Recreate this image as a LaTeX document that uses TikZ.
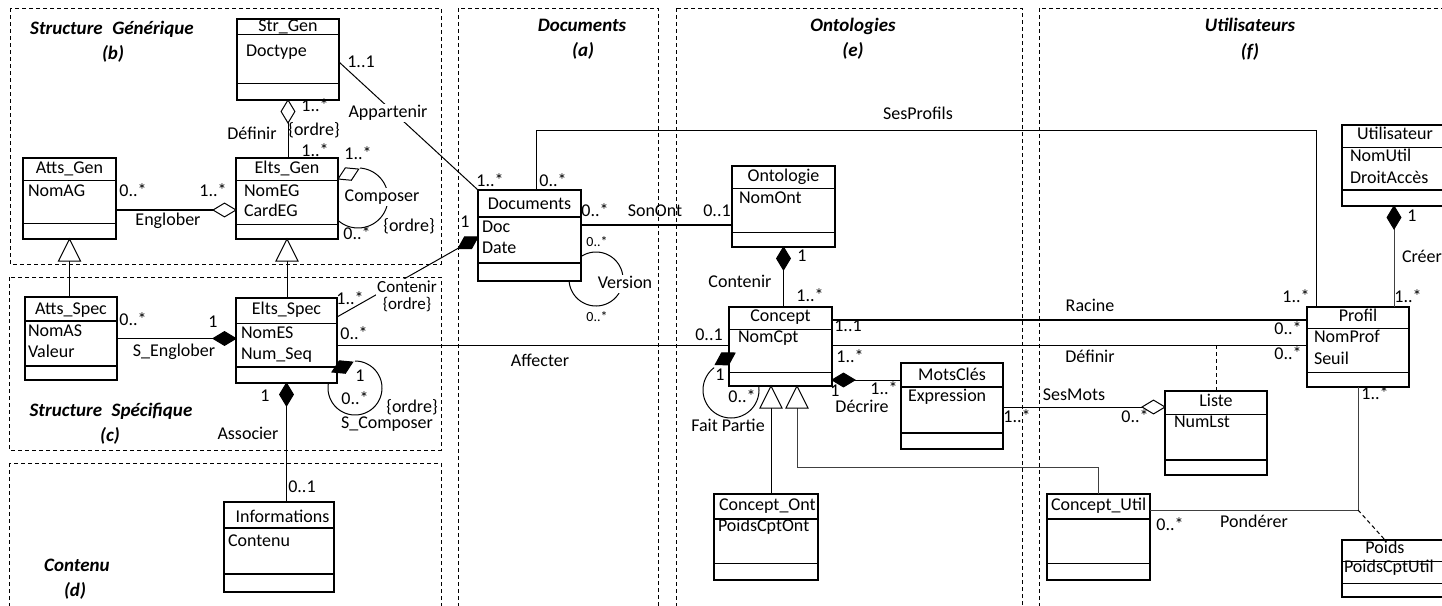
\documentclass[tikz,border=0pt]{standalone}
\usepackage{fontspec}
\setmainfont{Carlito}
\usetikzlibrary{calc}

% class box: name, x1, y1, x2, y2, separator 1 y, separator 2 y, style 1, style 2
\newcommand\umlclass[9]{%
  \node[clsbox, minimum width={(#4-#2)*1pt}, minimum height={(#5-#3)*1pt}] (#1) at ({(#2+#4)/2},{(#3+#5)/2}) {};
  \draw[#8] ({#2},{#6}) -- ({#4},{#6});
  \draw[#9] ({#2},{#7}) -- ({#4},{#7});
}
% aggregation / composition diamond: fill, tip, direction (degrees)
\newcommand\hdiam[3]{\draw[line width=1pt, fill=#1] (#2) -- ++(#3+31:13.4pt) -- ++(#3-31:13.4pt) -- ++(#3+211:13.4pt) -- cycle;}
% generalisation triangle with its apex on a class bottom
\newcommand\gentri[1]{\draw[line width=1pt, fill=white] (#1) -- ++(-11pt,-22pt) -- ++(22pt,0pt) -- cycle;}

\tikzset{
  lab/.style={font=\fontsize{18}{21}\selectfont, text height=12pt, text depth=3.5pt, inner sep=0pt, outer sep=0pt},
  small/.style={font=\fontsize{14}{16}\selectfont, text height=9pt, text depth=2.5pt, inner sep=0pt},
  ttl/.style={font=\fontsize{19}{22}\selectfont\bfseries\itshape, text height=12.5pt, text depth=3.5pt, inner sep=0pt},
  clsbox/.style={draw, line width=1.1pt, inner sep=0pt, outer sep=0pt},
  septhin/.style={line width=1pt},
  septhick/.style={line width=2pt},
  zone/.style={draw, dash pattern=on 4pt off 3pt, line width=0.9pt},
  assoc/.style={line width=1pt},
  heavy/.style={line width=2.2pt},
  lbg/.style={fill=white, inner sep=1.5pt},
}

\begin{document}
\begin{tikzpicture}[x=1pt,y=-1pt]
\clip (0,0) rectangle (1442,605);
\fill[white] (0,0) rectangle (1442,605);

% ---------- zones ----------
\draw[zone] (10,8) rectangle (441,264);
\draw[zone] (9,277) rectangle (441,450);
\draw[zone] (9,463) rectangle (441,620);
\draw[zone] (458,8) rectangle (658,620);
\draw[zone] (676,8) rectangle (1022,620);
\draw[zone] (1039,8) rectangle (1470,620);

\node[ttl] (zb) at (112,30) {Structure\hspace{0.5em}Générique};
\node[ttl] (zbl) at (113,55) {(b)};
\node[ttl] (za) at (582,27) {Documents};
\node[ttl] (zal) at (583,52) {(a)};
\node[ttl] (ze) at (853,27) {Ontologies};
\node[ttl] (zel) at (853,52) {(e)};
\node[ttl] (zf) at (1250,27) {Utilisateurs};
\node[ttl] (zfl) at (1250,53) {(f)};
\node[ttl] (zc) at (111,412) {Structure\hspace{0.5em}Spécifique};
\node[ttl] (zcl) at (110,437) {(c)};
\node[ttl] (zd) at (77,567) {Contenu};
\node[ttl] (zdl) at (75,592) {(d)};

% ---------- classes ----------
\umlclass{strgen}{237}{19}{339}{100}{34}{83}{septhin}{septhin}
\node[lab] (strgen-t) at (288,27) {Str\_Gen};
\node[lab,anchor=west] (strgen-a) at (246,52) {Doctype};

\umlclass{attsgen}{23}{158}{116}{239}{180}{223}{septhin}{septhin}
\node[lab] (attsgen-t) at (69.5,169) {Atts\_Gen};
\node[lab,anchor=west] (attsgen-a) at (28,192) {NomAG};

\umlclass{eltsgen}{236}{158}{338}{239}{180}{224}{septhin}{septhin}
\node[lab] (eltsgen-t) at (287,169) {Elts\_Gen};
\node[lab,anchor=west] (eltsgen-a) at (244,192) {NomEG};
\node[lab,anchor=west] (eltsgen-b) at (244,212) {CardEG};

\umlclass{attsspec}{25}{297}{117}{380}{321}{366}{septhick}{septhick}
\node[lab] (attsspec-t) at (71,310) {Atts\_Spec};
\node[lab,anchor=west] (attsspec-a) at (28,332) {NomAS};
\node[lab,anchor=west] (attsspec-b) at (28,353) {Valeur};

\umlclass{eltsspec}{236}{298}{337}{383}{323}{367}{septhin}{septhick}
\node[lab] (eltsspec-t) at (286.5,310) {Elts\_Spec};
\node[lab,anchor=west] (eltsspec-a) at (241,334) {NomES};
\node[lab,anchor=west] (eltsspec-b) at (241,355) {Num\_Seq};

\umlclass{informations}{224}{502}{334}{592}{528}{574}{septhick}{septhick}
\node[lab] (informations-t) at (282.5,518) {Informations};
\node[lab,anchor=west] (informations-a) at (228,542) {Contenu};

\umlclass{documents}{478}{190}{581}{281}{217}{263}{septhick}{septhick}
\node[lab] (documents-t) at (529.5,205) {Documents};
\node[lab,anchor=west] (documents-a) at (482,228) {Doc};
\node[lab,anchor=west] (documents-b) at (482,249) {Date};

\umlclass{ontologie}{732}{166}{835}{247}{188}{232}{septhin}{septhin}
\node[lab] (ontologie-t) at (783.5,177) {Ontologie};
\node[lab,anchor=west] (ontologie-a) at (739,199) {NomOnt};

\umlclass{concept}{729}{307}{832}{386}{329}{372}{septhin}{septhin}
\node[lab] (concept-t) at (780.5,317) {Concept};
\node[lab,anchor=west] (concept-a) at (738,338) {NomCpt};

\umlclass{motscles}{901}{363}{1003}{449}{387}{433}{septhick}{septhick}
\node[lab] (motscles-t) at (952,376) {MotsClés};
\node[lab,anchor=west] (motscles-a) at (908,397) {Expression};

\umlclass{conceptont}{714}{494}{818}{580}{519}{563}{septhick}{septhin}
\node[lab,anchor=west] (conceptont-t) at (719,506) {Concept\_Ont};
\node[lab,anchor=west] (conceptont-a) at (718,527) {PoidsCptOnt};

\umlclass{conceptutil}{1047}{494}{1150}{580}{519}{563}{septhick}{septhin}
\node[lab,anchor=west] (conceptutil-t) at (1051,506) {Concept\_Util};

\umlclass{utilisateur}{1342}{125}{1460}{206}{147}{190}{septhin}{septhick}
\node[lab] (utilisateur-t) at (1395,135) {Utilisateur};
\node[lab,anchor=west] (utilisateur-a) at (1350,157) {NomUtil};
\node[lab,anchor=west] (utilisateur-b) at (1350,179) {DroitAccès};

\umlclass{profil}{1307}{307}{1409}{387}{328}{372}{septhin}{septhin}
\node[lab] (profil-t) at (1358,317) {Profil};
\node[lab,anchor=west] (profil-a) at (1314,338) {NomProf};
\node[lab,anchor=west] (profil-b) at (1314,360) {Seuil};

\umlclass{liste}{1165}{391}{1267}{475}{414}{460}{septhin}{septhick}
\node[lab] (liste-t) at (1216,402) {Liste};
\node[lab,anchor=west] (liste-a) at (1174,423) {NumLst};

\umlclass{poids}{1342}{540}{1460}{597}{561}{583}{septhin}{septhin}
\node[lab] (poids-t) at (1385,549) {Poids};
\node[lab,anchor=west] (poids-a) at (1344,568) {PoidsCptUtil};

% ---------- generic structure ----------
% Définir
\draw[assoc] (strgen.south) -- (strgen.south |- eltsgen.north);
\hdiam{white}{strgen.south}{-90}
\node[lab] (m1) at (315,107) {1..*};
\node[lab] (m2) at (314,131) {\{ordre\}};
\node[lab] (m3) at (252,135) {Définir};
\node[lab] (m4) at (315,152) {1..*};

% Englober
\coordinate (eng) at ([yshift=-11.5pt]attsgen.east);
\draw[heavy] (eng) -- (eng -| eltsgen.west);
\hdiam{white}{eng -| eltsgen.west}{180}
\node[lab] (m5) at (133,192) {0..*};
\node[lab] (m6) at (213,192) {1..*};
\node[lab] (m7) at (168,221) {Englober};

% Composer
\draw[assoc] plot[domain=-86:132, samples=60, smooth] ({358+30*cos(\x)},{198+30*sin(\x)});
\hdiam{white}{[yshift=19.5pt]eltsgen.east}{25.6}
\node[lab] (m8) at (358,155) {1..*};
\node[lab,lbg] (m9) at (382,197) {Composer};
\node[lab] (m10) at (409,227) {\{ordre\}};
\node[lab] (m11) at (357,235) {0..*};

% generalisations
\draw[assoc] (attsgen.south) -- (attsgen.south |- attsspec.north);
\gentri{attsgen.south}
\draw[assoc] (eltsgen.south) -- (eltsgen.south |- eltsspec.north);
\gentri{eltsgen.south}

% ---------- specific structure ----------
% S_Englober
\draw[assoc] (attsspec.east) -- (attsspec.east -| eltsspec.west);
\hdiam{black}{attsspec.east -| eltsspec.west}{180}
\node[lab] (m12) at (133,321) {0..*};
\node[lab] (m13) at (213,323) {1};
\node[lab] (m14) at (174,352) {S\_Englober};

% S_Composer
\draw[assoc] plot[domain=-90:192, samples=60, smooth] ({355+27*cos(\x)},{388+27*sin(\x)});
\hdiam{black}{[xshift=-5pt,yshift=11pt]eltsspec.south east}{25.6}
\node[lab] (m15) at (360,377) {1};
\node[lab] (m16) at (355,400) {0..*};
\node[lab] (m17) at (412,408) {\{ordre\}};
\node[lab] (m18) at (387,424) {S\_Composer};

% Associer
\draw[assoc] (eltsspec.south) -- (eltsspec.south |- informations.north);
\hdiam{black}{eltsspec.south}{-90}
\node[lab] (m19) at (265,397) {1};
\node[lab] (m20) at (248,435) {Associer};
\node[lab] (m21) at (302,488) {0..1};

% ---------- documents ----------
% Appartenir
\draw[assoc] ([yshift=-2.5pt]strgen.east) -- (documents.north west);
\node[lab,lbg] (m22) at (388,113) {Appartenir};
\node[lab] (m23) at (361,63) {1..1};
\node[lab] (m24) at (490,182) {1..*};

% Contenir
\coordinate (cnt) at ([yshift=-1.5pt]documents.west);
\draw[assoc] (cnt) -- ([yshift=23.5pt]eltsspec.east);
\hdiam{black}{cnt}{210}
\node[font=\fontsize{17}{17}\selectfont, align=center, fill=white, inner sep=1pt] (m25) at (407,296) {Contenir\\\{ordre\}};
\node[lab] (m27) at (465,223) {1};
\node[lab] (m28) at (350,300) {1..*};

% SonOnt
\coordinate (son) at ([yshift=10.5pt]documents.east);
\draw[heavy] (son) -- (son -| ontologie.west);
\node[lab] (m29) at (595,212) {0..*};
\node[lab] (m30) at (655,212) {SonOnt};
\node[lab] (m31) at (717,212) {0..1};

% Version
\draw[assoc] plot[domain=-124:176, samples=60, smooth] ({596+27*cos(\x)},{279+27*sin(\x)});
\node[lab,lbg] (m32) at (625,284) {Version};
\node[small] (m33) at (597,243) {0..*};
\node[small] (m34) at (597,318) {0..*};

% SesProfils
\draw[assoc] ([xshift=6.5pt]documents.north) -- ++(0pt,60pt) -| ([xshift=-42pt]profil.north);
\node[lab] (m35) at (918,115) {SesProfils};
\node[lab] (m36) at (553,182) {0..*};
\node[lab] (m37) at (1296,298) {1..*};

% ---------- ontologies ----------
% Contenir
\draw[assoc] (ontologie.south) -- (ontologie.south |- concept.north);
\hdiam{black}{ontologie.south}{-90}
\node[lab] (m38) at (802,257) {1};
\node[lab] (m39) at (740,283) {Contenir};
\node[lab] (m40) at (810,297) {1..*};

% Racine
\coordinate (rac) at ([yshift=26.5pt]concept.east);
\draw[heavy] (rac) -- (rac -| profil.west);
\node[lab] (m41) at (848,327) {1..1};
\node[lab] (m42) at (1090,307) {Racine};
\node[lab] (m43) at (1288,330) {0..*};

% Définir
\coordinate (def) at ([yshift=1.5pt]concept.east);
\draw[assoc] (def) -- (def -| profil.west);
\draw[assoc, dash pattern=on 4pt off 3pt] (liste.north |- def) -- (liste.north);
\node[lab] (m44) at (850,358) {1..*};
\node[lab] (m45) at (1090,358) {Définir};
\node[lab] (m46) at (1288,355) {0..*};

% Affecter
\coordinate (aff) at ([yshift=-4.5pt]eltsspec.east);
\draw[assoc] (aff) -- (aff -| concept.west);
\node[lab] (m47) at (354,335) {0..*};
\node[lab] (m48) at (540,362) {Affecter};
\node[lab] (m49) at (709,336) {0..1};

% Fait Partie
\draw[assoc] plot[domain=-8:233, samples=60, smooth] ({731+28*cos(\x)},{390+28*sin(\x)});
\hdiam{black}{[xshift=6pt,yshift=-6.5pt]concept.west}{210.6}
\node[lab] (m50) at (720,376) {1};
\node[lab] (m51) at (742,398) {0..*};
\node[lab] (m52) at (728,427) {Fait Partie};

% Décrire
\coordinate (dec) at ([yshift=-33.5pt]concept.east);
\draw[assoc] (dec) -- (dec -| motscles.west);
\hdiam{black}{dec}{0}
\node[lab] (m53) at (835,392) {1};
\node[lab] (m54) at (884,390) {1..*};
\node[lab] (m55) at (862,408) {Décrire};

% SesMots
\coordinate (smo) at ([yshift=-1pt]motscles.east);
\draw[assoc] (smo) -- (smo -| liste.west);
\hdiam{white}{smo -| liste.west}{180}
\node[lab] (m56) at (1017,418) {1..*};
\node[lab] (m57) at (1074,396) {SesMots};
\node[lab] (m58) at (1135,418) {0..*};

% specialisations of Concept
\coordinate (g1) at ([xshift=-9.5pt]concept.south);
\draw[assoc] (g1) -- (g1 |- conceptont.north);
\gentri{g1}
\coordinate (g2) at ([xshift=16.5pt]concept.south);
\draw[assoc, black!75] (g2) -- ++(0pt,-81pt) -| (conceptutil.north);
\gentri{g2}

% ---------- users ----------
% Créer
\coordinate (cre) at ([xshift=-7pt]utilisateur.south);
\draw[assoc, black!75] (cre) -- (cre |- profil.north);
\hdiam{black}{cre}{-90}
\node[lab] (m59) at (1412,217) {1};
\node[lab,anchor=west] (m60) at (1402,258) {Créer};
\node[lab] (m61) at (1408,298) {1..*};

% Pondérer
\coordinate (pon) at ([yshift=27pt]conceptutil.east);
\draw[assoc, black!75] (profil.south) |- (pon);
\draw[assoc, dash pattern=on 4pt off 3pt] (profil.south |- pon) -- ([xshift=-16pt]poids.north);
\node[lab] (m62) at (1375,395) {1..*};
\node[lab] (m63) at (1170,526) {0..*};
\node[lab] (m64) at (1254,523) {Pondérer};

\end{tikzpicture}
\end{document}
